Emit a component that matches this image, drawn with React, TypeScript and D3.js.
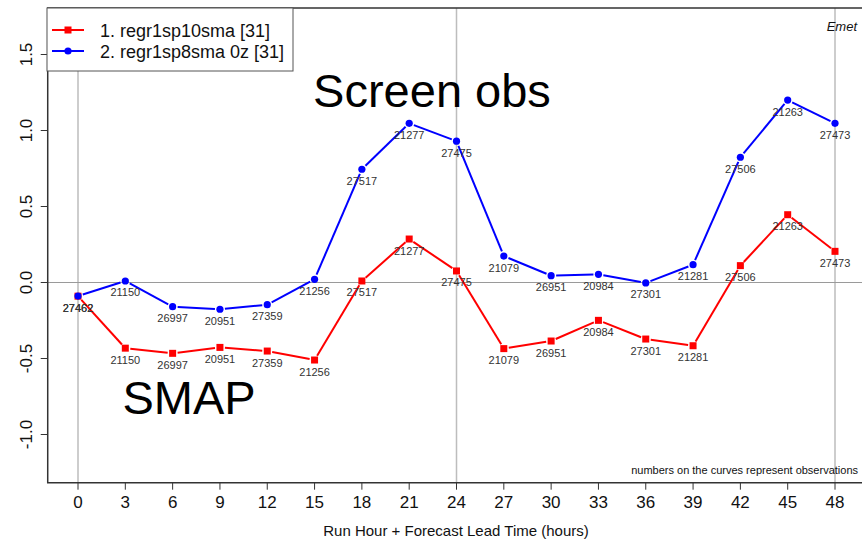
import React from "react";
import * as d3 from "d3";

const hours = [0, 3, 6, 9, 12, 15, 18, 21, 24, 27, 30, 33, 36, 39, 42, 45, 48];
const redValues = [-0.09, -0.432, -0.466, -0.427, -0.451, -0.51, 0.01, 0.286, 0.076, -0.435, -0.385, -0.249, -0.372, -0.416, 0.111, 0.446, 0.205];
const blueValues = [-0.089, 0.01, -0.159, -0.176, -0.146, 0.021, 0.745, 1.047, 0.93, 0.174, 0.045, 0.054, -0.003, 0.117, 0.824, 1.2, 1.047];
const obsCounts = ["27462", "21150", "26997", "20951", "27359", "21256", "27517", "21277", "27475", "21079", "26951", "20984", "27301", "21281", "27506", "21263", "27473"];
const yTicks = [-1.0, -0.5, 0.0, 0.5, 1.0, 1.5];
const gridHours = [0, 24, 48];
const legendLabels = ["1. regr1sp10sma [31]", "2. regr1sp8sma 0z [31]"];

const W = 862;
const H = 540;
const FONT = "'Liberation Sans', Arial, Helvetica, sans-serif";

export default function App() {
  const x = d3.scaleLinear().domain([0, 48]).range([78, 835]);
  const y = d3.scaleLinear().domain([0, 1]).range([282.5, 130.5]);
  const left = x(-1.92);
  const right = x(49.92);
  const top = y(1.806);
  const bottom = y(-1.317);

  const gap = 5;
  const segs = (vals: number[]) => {
    const out: { x1: number; y1: number; x2: number; y2: number }[] = [];
    for (let i = 0; i < vals.length - 1; i++) {
      const ax = x(hours[i]), ay = y(vals[i]);
      const bx = x(hours[i + 1]), by = y(vals[i + 1]);
      const dx = bx - ax, dy = by - ay;
      const L = Math.hypot(dx, dy);
      if (L <= 2 * gap) continue;
      const ux = dx / L, uy = dy / L;
      out.push({ x1: ax + ux * gap, y1: ay + uy * gap, x2: bx - ux * gap, y2: by - uy * gap });
    }
    return out;
  };

  const series = [
    { vals: redValues, color: "#ff0000", shape: "square" },
    { vals: blueValues, color: "#0000ff", shape: "circle" },
  ];

  return (
    <svg width={W} height={H} style={{ position: "absolute", left: 0, top: 0, background: "#fff" }} fontFamily={FONT}>
      <rect x={0} y={0} width={W} height={H} fill="#fff" />
      {gridHours.map((h) => (
        <line key={"g" + h} x1={x(h)} x2={x(h)} y1={top} y2={bottom} stroke="#bdbdbd" strokeWidth={1.5} />
      ))}
      <line x1={left} x2={right} y1={y(0)} y2={y(0)} stroke="#9a9a9a" strokeWidth={1} />

      {series.map((s, si) => (
        <g key={"s" + si}>
          {segs(s.vals).map((sg, i) => (
            <line key={i} {...sg} stroke={s.color} strokeWidth={2} />
          ))}
          {s.vals.map((v, i) =>
            s.shape === "square" ? (
              <rect key={"m" + i} x={x(hours[i]) - 3.5} y={y(v) - 3.5} width={7} height={7} fill={s.color} />
            ) : (
              <circle key={"m" + i} cx={x(hours[i])} cy={y(v)} r={3.6} fill={s.color} />
            )
          )}
        </g>
      ))}
      {series.map((s, si) => (
        <g key={"l" + si}>
          {s.vals.map((v, i) => (
            <text key={i} x={x(hours[i])} y={y(v) + 15.5} fontSize={11} fill="#333" textAnchor="middle">
              {obsCounts[i]}
            </text>
          ))}
        </g>
      ))}

      <path d={`M${right},${top} L${left},${top} L${left},${bottom} L${right},${bottom}`} fill="none" stroke="#333" strokeWidth={1.5} />

      {yTicks.map((t) => (
        <g key={"y" + t}>
          <line x1={left} x2={left - 7} y1={y(t)} y2={y(t)} stroke="#333" strokeWidth={1} />
          <text transform={`translate(32,${y(t)}) rotate(-90)`} textAnchor="middle" fontSize={17} fill="#111">
            {t.toFixed(1)}
          </text>
        </g>
      ))}

      {hours.map((h) => (
        <g key={"x" + h}>
          <line x1={x(h)} x2={x(h)} y1={bottom} y2={bottom + 7} stroke="#333" strokeWidth={1} />
          <text x={x(h)} y={508} textAnchor="middle" fontSize={17} fill="#111">
            {h}
          </text>
        </g>
      ))}
      <text x={456} y={536} textAnchor="middle" fontSize={15} fill="#111">
        Run Hour + Forecast Lead Time (hours)
      </text>

      <text x={432} y={107} textAnchor="middle" fontSize={47} fill="#000">Screen obs</text>
      <text x={189} y={414} textAnchor="middle" fontSize={47} fill="#000">SMAP</text>
      <text x={857} y={31} textAnchor="end" fontSize={13} fontStyle="italic" fill="#111">Emet</text>
      <text x={858} y={474} textAnchor="end" fontSize={11} fill="#111">numbers on the curves represent observations</text>

      <rect x={47} y={8} width={246} height={63} fill="#fff" stroke="#555" strokeWidth={1} />
      {series.map((s, si) => {
        const ly = 30 + si * 21;
        return (
          <g key={"leg" + si}>
            <line x1={52} x2={84} y1={ly} y2={ly} stroke={s.color} strokeWidth={2} />
            {s.shape === "square" ? (
              <rect x={68 - 3.5} y={ly - 3.5} width={7} height={7} fill={s.color} />
            ) : (
              <circle cx={68} cy={ly} r={3.6} fill={s.color} />
            )}
            <text x={100} y={ly + 6.5} fontSize={18} fill="#111">{legendLabels[si]}</text>
          </g>
        );
      })}
    </svg>
  );
}
